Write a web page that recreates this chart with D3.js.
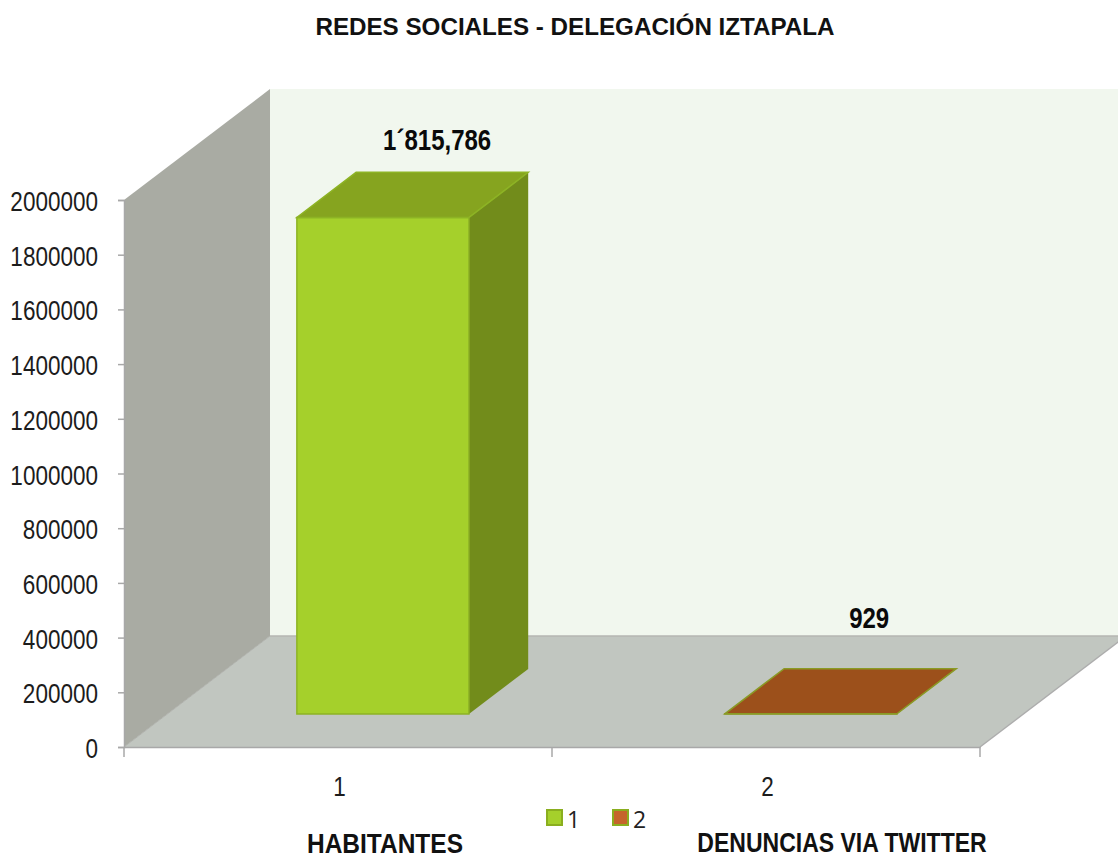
<!DOCTYPE html>
<html>
<head>
<meta charset="utf-8">
<script src="https://cdn.jsdelivr.net/npm/d3@7"></script>
<style>
    html, body { margin: 0; background: #fff; }
    svg { display: block; }
</style>
</head>
<body>
<div id="chart"></div>
<script>
const categories = ['1', '2'];
const values = [1815786, 929];
const valueLabels = ['1´815,786', '929'];
const axisNames = ['HABITANTES', 'DENUNCIAS VIA TWITTER'];
const yTicks = [0, 200000, 400000, 600000, 800000, 1000000, 1200000, 1400000, 1600000, 1800000, 2000000];
const legendItems = ['1', '2'];

const width = 1118;
const height = 859;
const margin = { left: 124, right: 980, bottom: 747, top: 200 };
const sansFont = '"Liberation Sans", Arial, sans-serif';

// how far the back of the box sits from the front
const depthX = 146, depthY = -111;
const barFront = 0.297, barBack = 0.703;

const x = d3.scaleBand().domain(categories).range([margin.left, margin.right])
    .paddingInner(0.598).paddingOuter(0.299).align(0.506);
const y = d3.scaleLinear().domain([0, 2000000]).range([margin.bottom, margin.top]);

const svg = d3.select('#chart').append('svg')
    .attr('width', width)
    .attr('height', height);

function pt(px, v, depth) {
    return [px + depth * depthX, y(v) + depth * depthY];
}

function face(points, fill, stroke) {
    return svg.append('polygon')
        .attr('points', points.map(function(p) { return p.join(','); }).join(' '))
        .attr('fill', fill)
        .attr('stroke', stroke || 'none')
        .attr('stroke-width', stroke ? 1.5 : 0);
}

// no narrow font is installed, so squeeze the glyphs to the needed width
function condense(selection, ratio) {
    selection.each(function() {
        const len = this.getComputedTextLength();
        d3.select(this)
            .attr('textLength', len * ratio)
            .attr('lengthAdjust', 'spacingAndGlyphs');
    });
}

// walls and floor
const yMax = y.domain()[1];
const xL = margin.left, xR = margin.right;
face([pt(xL, yMax, 1), [width, pt(xL, yMax, 1)[1]], [width, pt(xL, 0, 1)[1]], pt(xL, 0, 1)], '#f1f7ee');
face([pt(xL, 0, 0), pt(xL, yMax, 0), pt(xL, yMax, 1), pt(xL, 0, 1)], '#a9aba3');
face([pt(xL, 0, 0), pt(xR, 0, 0), pt(xR, 0, 1), pt(xL, 0, 1)], '#c1c6c0');

svg.append('line')
    .attr('x1', pt(xL, 0, 1)[0]).attr('y1', pt(xL, 0, 1)[1])
    .attr('x2', width).attr('y2', pt(xL, 0, 1)[1])
    .attr('stroke', '#b4b6b2').attr('stroke-width', 1.5);
svg.append('line')
    .attr('x1', pt(xL, 0, 0)[0]).attr('y1', pt(xL, 0, 0)[1])
    .attr('x2', pt(xL, 0, 1)[0]).attr('y2', pt(xL, 0, 1)[1])
    .attr('stroke', '#b0b2ad').attr('stroke-width', 1);
svg.append('line')
    .attr('x1', pt(xR, 0, 0)[0]).attr('y1', pt(xR, 0, 0)[1])
    .attr('x2', pt(xR, 0, 1)[0]).attr('y2', pt(xR, 0, 1)[1])
    .attr('stroke', '#adadad').attr('stroke-width', 1.5);

// axes
const yAxis = svg.append('g')
    .attr('transform', 'translate(' + xL + ',0)')
    .call(d3.axisLeft(y).tickValues(yTicks).tickFormat(d3.format('d')).tickSize(6).tickPadding(20));

const xAxis = svg.append('g')
    .attr('transform', 'translate(0,' + margin.bottom + ')')
    .call(d3.axisBottom(x).tickSize(0).tickPadding(29));

// axisBottom on a band scale only ticks the centres, the marks go on the band edges
xAxis.selectAll('.edge')
    .data([xL, xL + x.step(), xR])
    .enter()
    .append('line')
    .attr('class', 'edge')
    .attr('x1', function(d) { return d; })
    .attr('x2', function(d) { return d; })
    .attr('y1', 0)
    .attr('y2', 10)
    .attr('stroke', '#a8a8a8')
    .attr('stroke-width', 1.5);

[yAxis, xAxis].forEach(function(axis) {
    axis.selectAll('path.domain').attr('stroke', '#a8a8a8').attr('stroke-width', 1.5);
    axis.selectAll('.tick line').attr('stroke', '#a8a8a8').attr('stroke-width', 1.5);
    axis.selectAll('text')
        .style('font-family', sansFont)
        .style('font-size', '28.5px')
        .attr('fill', '#1c1c1c')
        .call(condense, 0.79);
});
yAxis.selectAll('text').attr('dy', '0.37em');

// bars
const barColors = [
    { front: '#a5d02b', side: '#728c1b', top: '#86a41f', edge: '#8db324' },
    { front: '#c5652b', side: '#8f4a18', top: '#9c501b', edge: '#8a9a25' }
];

categories.forEach(function(cat, i) {
    const x0 = x(cat), x1 = x0 + x.bandwidth();
    const c = barColors[i];
    face([pt(x1, 0, barFront), pt(x1, 0, barBack), pt(x1, values[i], barBack), pt(x1, values[i], barFront)], c.side);
    face([pt(x0, 0, barFront), pt(x1, 0, barFront), pt(x1, values[i], barFront), pt(x0, values[i], barFront)], c.front, c.edge);
    face([pt(x0, values[i], barFront), pt(x1, values[i], barFront), pt(x1, values[i], barBack), pt(x0, values[i], barBack)], c.top, c.edge);
});

// value labels above the bars
const labelShift = [[-5, -22], [-1, -41]];

svg.selectAll('.value-label')
    .data(valueLabels)
    .enter()
    .append('text')
    .attr('class', 'value-label')
    .attr('x', function(d, i) { return pt(x(categories[i]) + x.bandwidth() / 2, values[i], barBack)[0] + labelShift[i][0]; })
    .attr('y', function(d, i) { return pt(0, values[i], barBack)[1] + labelShift[i][1]; })
    .attr('text-anchor', 'middle')
    .attr('font-family', sansFont)
    .attr('font-size', 30)
    .attr('font-weight', 'bold')
    .attr('fill', '#0a0a0a')
    .text(function(d) { return d; })
    .call(condense, 0.8);

// title
svg.append('text')
    .attr('x', 575)
    .attr('y', 35)
    .attr('text-anchor', 'middle')
    .attr('font-family', sansFont)
    .attr('font-size', 24.2)
    .attr('font-weight', 'bold')
    .attr('fill', '#111')
    .text('REDES SOCIALES - DELEGACIÓN IZTAPALA');

// names under the axis
const namePos = [[385, 853], [842, 852]];
const nameSqueeze = [0.83, 0.78];

svg.selectAll('.axis-name')
    .data(axisNames)
    .enter()
    .append('text')
    .attr('class', 'axis-name')
    .attr('x', function(d, i) { return namePos[i][0]; })
    .attr('y', function(d, i) { return namePos[i][1]; })
    .attr('text-anchor', 'middle')
    .attr('font-family', sansFont)
    .attr('font-size', 28.5)
    .attr('font-weight', 'bold')
    .attr('fill', '#111')
    .text(function(d) { return d; })
    .each(function(d, i) { d3.select(this).call(condense, nameSqueeze[i] * 29.5 / 28.5); });

// legend
const legendX = d3.scalePoint().domain(legendItems).range([546, 612]);

legendItems.forEach(function(item, i) {
    svg.append('rect')
        .attr('x', legendX(item) + 1)
        .attr('y', 810)
        .attr('width', 15)
        .attr('height', 15)
        .attr('fill', barColors[i].front)
        .attr('stroke', '#8aae1f')
        .attr('stroke-width', 2);
    svg.append('text')
        .attr('x', legendX(item) + 21)
        .attr('y', 828)
        .attr('font-family', '"Open Sans", sans-serif')
        .attr('font-size', 23)
        .attr('fill', '#222')
        .text(item);
});
</script>
</body>
</html>
